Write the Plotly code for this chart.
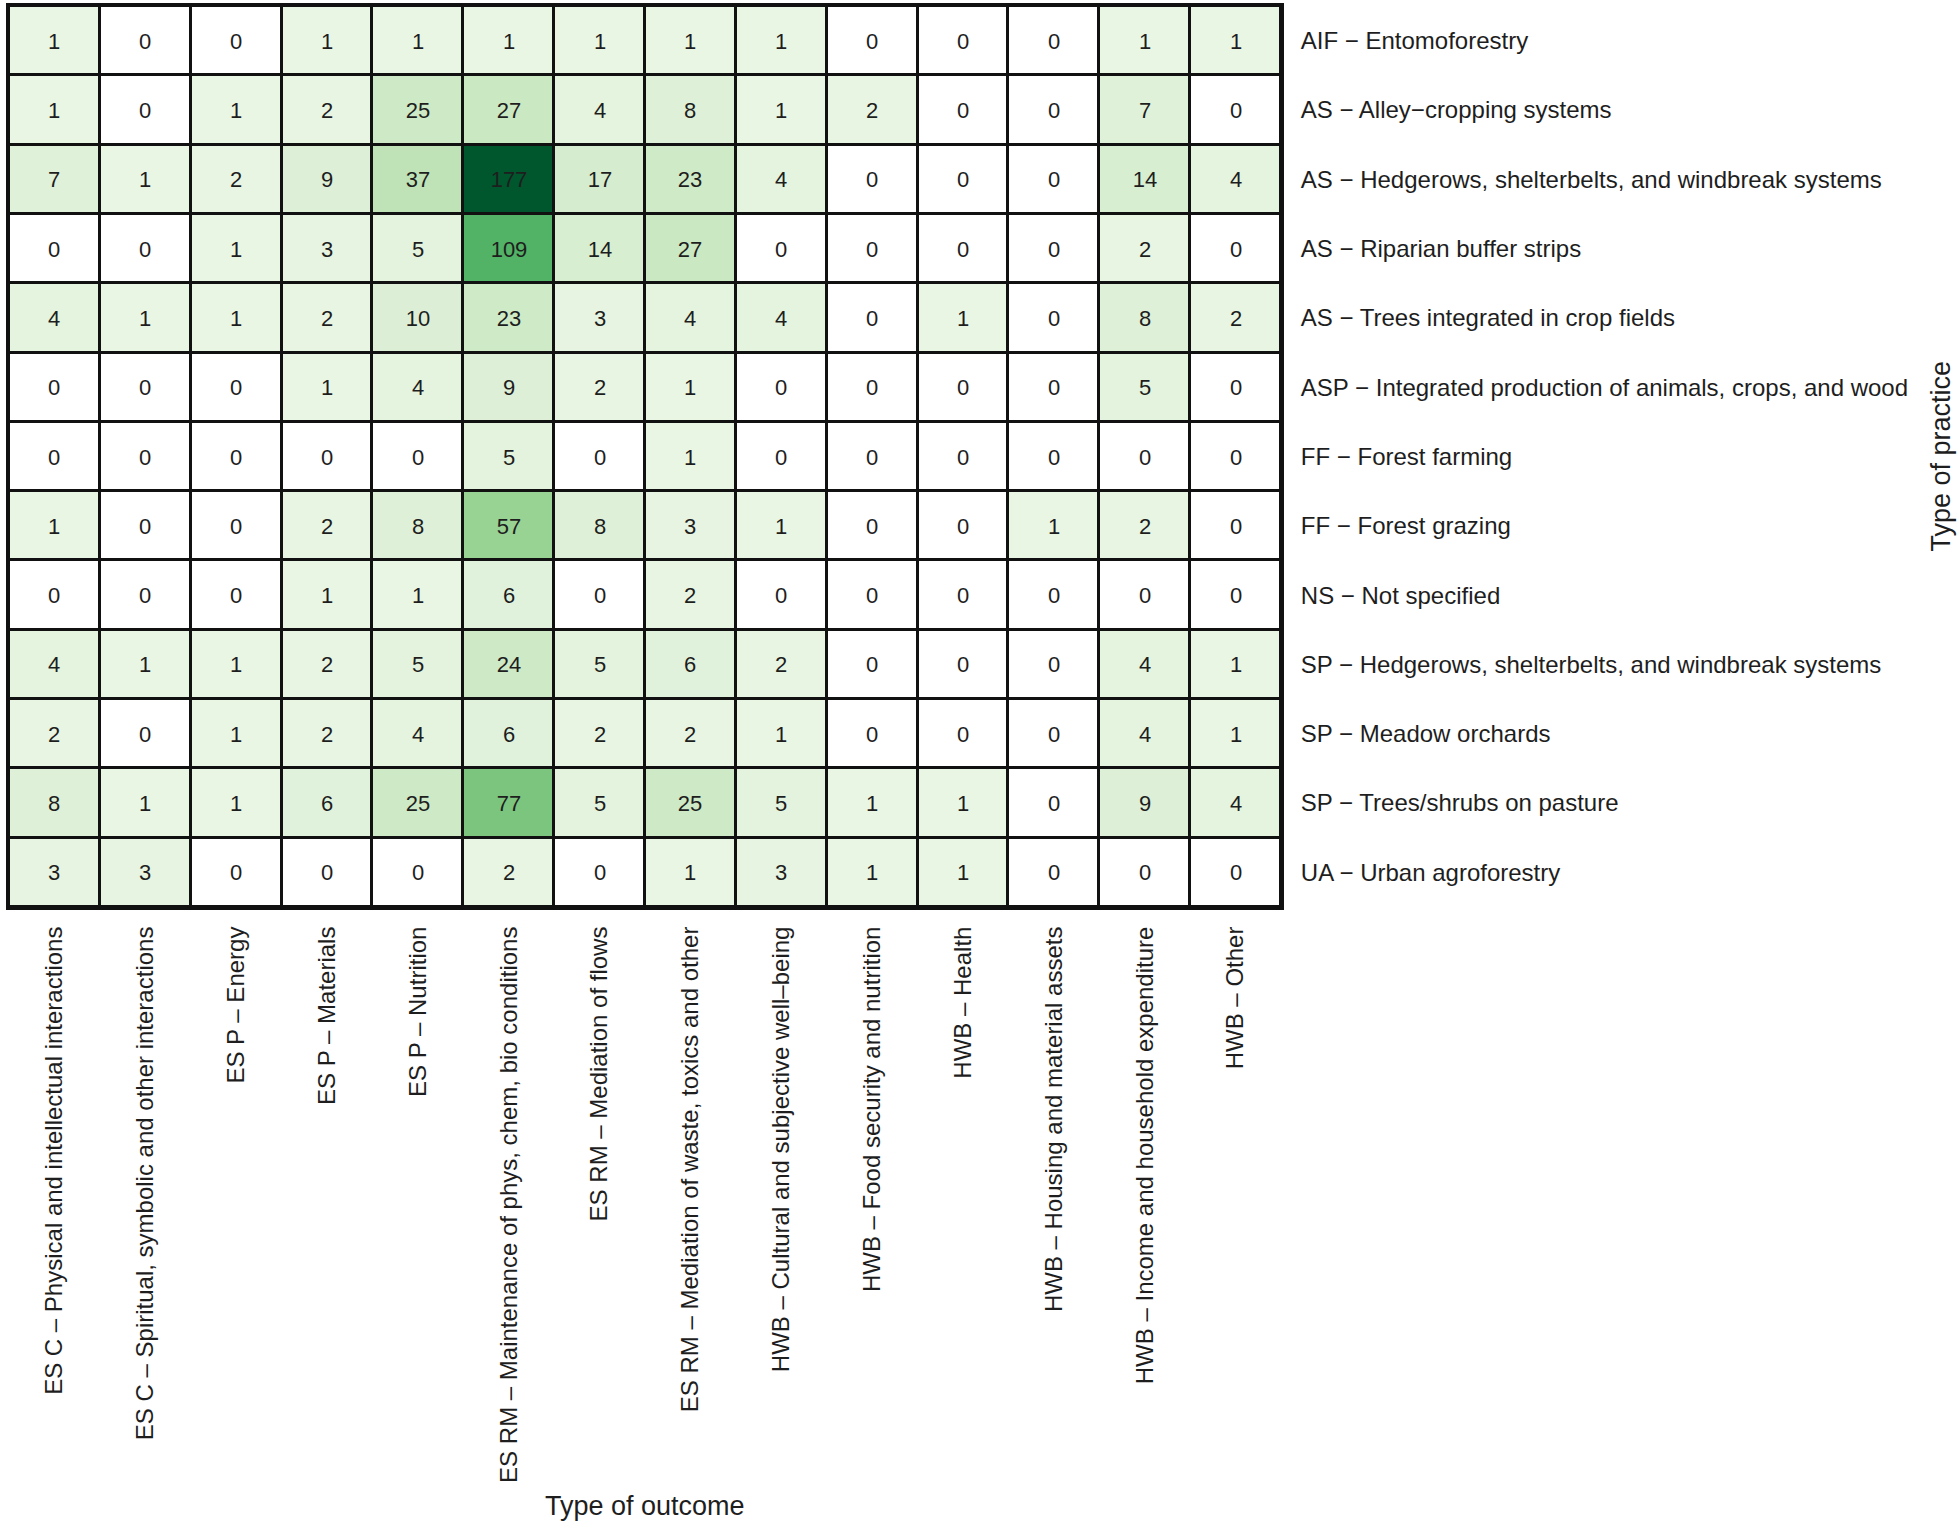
import plotly.graph_objects as go

outcomes = [
    "ES C – Physical and intellectual interactions",
    "ES C – Spiritual, symbolic and other interactions",
    "ES P – Energy",
    "ES P – Materials",
    "ES P – Nutrition",
    "ES RM – Maintenance of phys, chem, bio conditions",
    "ES RM – Mediation of flows",
    "ES RM – Mediation of waste, toxics and other",
    "HWB – Cultural and subjective well–being",
    "HWB – Food security and nutrition",
    "HWB – Health",
    "HWB – Housing and material assets",
    "HWB – Income and household expenditure",
    "HWB – Other",
]

practices = [
    "AIF − Entomoforestry",
    "AS − Alley−cropping systems",
    "AS − Hedgerows, shelterbelts, and windbreak systems",
    "AS − Riparian buffer strips",
    "AS − Trees integrated in crop fields",
    "ASP − Integrated production of animals, crops, and wood",
    "FF − Forest farming",
    "FF − Forest grazing",
    "NS − Not specified",
    "SP − Hedgerows, shelterbelts, and windbreak systems",
    "SP − Meadow orchards",
    "SP − Trees/shrubs on pasture",
    "UA − Urban agroforestry",
]

counts = [
    [1, 0, 0, 1, 1, 1, 1, 1, 1, 0, 0, 0, 1, 1],
    [1, 0, 1, 2, 25, 27, 4, 8, 1, 2, 0, 0, 7, 0],
    [7, 1, 2, 9, 37, 177, 17, 23, 4, 0, 0, 0, 14, 4],
    [0, 0, 1, 3, 5, 109, 14, 27, 0, 0, 0, 0, 2, 0],
    [4, 1, 1, 2, 10, 23, 3, 4, 4, 0, 1, 0, 8, 2],
    [0, 0, 0, 1, 4, 9, 2, 1, 0, 0, 0, 0, 5, 0],
    [0, 0, 0, 0, 0, 5, 0, 1, 0, 0, 0, 0, 0, 0],
    [1, 0, 0, 2, 8, 57, 8, 3, 1, 0, 0, 1, 2, 0],
    [0, 0, 0, 1, 1, 6, 0, 2, 0, 0, 0, 0, 0, 0],
    [4, 1, 1, 2, 5, 24, 5, 6, 2, 0, 0, 0, 4, 1],
    [2, 0, 1, 2, 4, 6, 2, 2, 1, 0, 0, 0, 4, 1],
    [8, 1, 1, 6, 25, 77, 5, 25, 5, 1, 1, 0, 9, 4],
    [3, 3, 0, 0, 0, 2, 0, 1, 3, 1, 1, 0, 0, 0],
]

colorscale = [
    [0.0, "#ffffff"],
    [0.0056, "#e9f6e4"],
    [0.05, "#ddf0d7"],
    [0.14, "#cde9c5"],
    [0.21, "#bfe3b6"],
    [0.32, "#98d393"],
    [0.435, "#7cc57e"],
    [0.616, "#52b266"],
    [1.0, "#00562d"],
]

FONT = "Liberation Sans"
TXT = "#1e1e1e"

fig = go.Figure(
    go.Heatmap(
        z=counts,
        x=outcomes,
        y=practices,
        colorscale=colorscale,
        zmin=0,
        zmax=177,
        showscale=False,
        xgap=3,
        ygap=3,
        texttemplate="%{z}",
        textfont=dict(family=FONT, size=22, color=TXT),
        hoverinfo="skip",
    )
)

fig.update_layout(
    width=1960,
    height=1529,
    margin=dict(l=9, r=679, t=6, b=622),
    paper_bgcolor="white",
    plot_bgcolor="#111111",
    font=dict(family=FONT, color=TXT),
    xaxis=dict(
        side="bottom",
        tickangle=-90,
        tickfont=dict(family=FONT, size=24, color=TXT),
        ticks="outside",
        ticklen=7,
        tickcolor="rgba(0,0,0,0)",
        showgrid=False,
        zeroline=False,
        showline=True,
        linecolor="#111111",
        linewidth=3,
        mirror=True,
        automargin=False,
    ),
    yaxis=dict(
        side="right",
        autorange="reversed",
        tickfont=dict(family=FONT, size=24, color=TXT),
        ticks="outside",
        ticklen=12,
        tickcolor="rgba(0,0,0,0)",
        showgrid=False,
        zeroline=False,
        showline=True,
        linecolor="#111111",
        linewidth=3,
        mirror=True,
        automargin=False,
    ),
    annotations=[
        dict(
            text="Type of outcome",
            xref="paper", yref="paper",
            x=0.5, y=0, yshift=-599,
            xanchor="center", yanchor="middle",
            showarrow=False,
            font=dict(family=FONT, size=27, color=TXT),
        ),
        dict(
            text="Type of practice",
            xref="paper", yref="paper",
            x=1, xshift=659, y=0.5,
            xanchor="center", yanchor="middle",
            textangle=-90,
            showarrow=False,
            font=dict(family=FONT, size=27, color=TXT),
        ),
    ],
)

fig.write_html(
    "out.html",
    config={"displayModeBar": False},
    post_script="document.body.style.margin='0';document.body.style.overflow='hidden';",
)
